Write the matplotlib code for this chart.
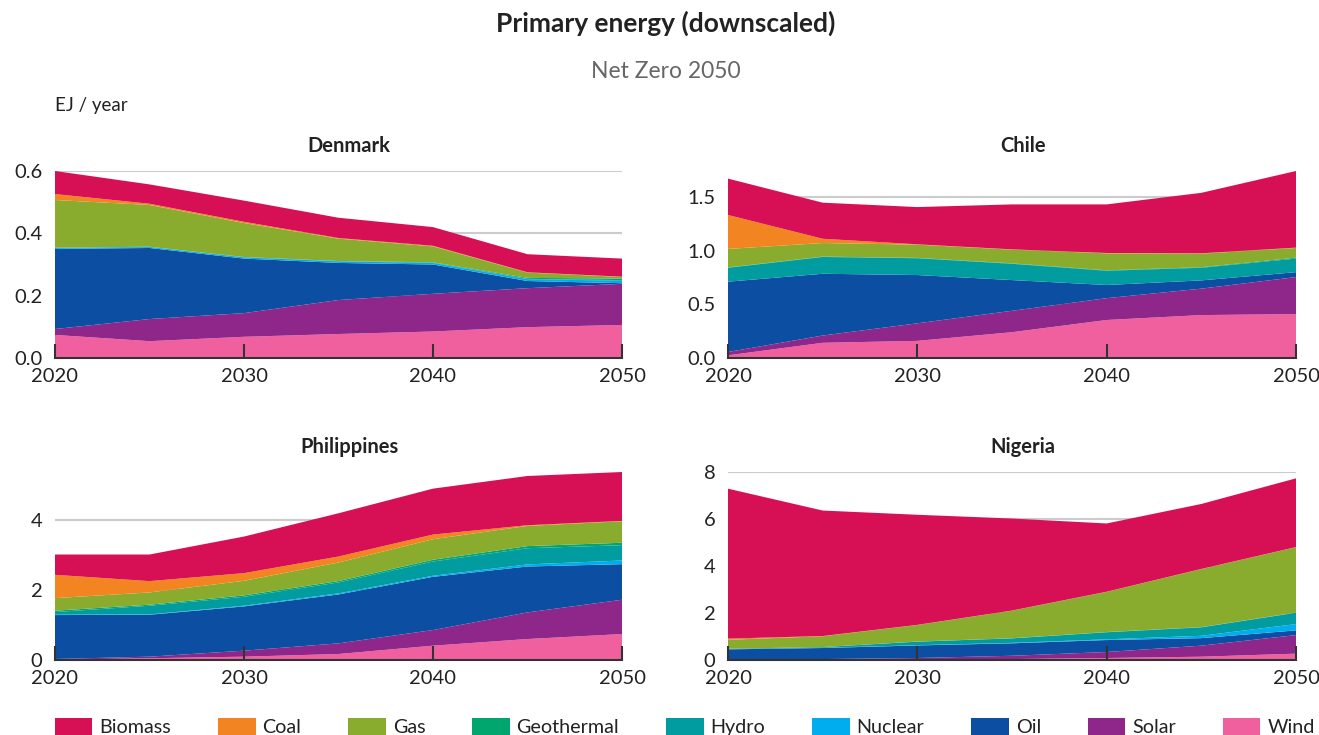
import numpy as np
import matplotlib
matplotlib.use("Agg")
from matplotlib import pyplot as plt
from matplotlib.patches import Patch

plt.rcParams['font.family'] = ['Lato', 'DejaVu Sans']

years = [2020, 2025, 2030, 2035, 2040, 2045, 2050]
sources = ["Biomass", "Coal", "Gas", "Geothermal", "Hydro", "Nuclear", "Oil", "Solar", "Wind"]
colors = ["#D70F55", "#F28522", "#89AC2F", "#00A66E", "#009CA0", "#00AEEF", "#0B4EA2", "#8F278B", "#F0609E"]

# EJ / year, one list per source (same order as `sources`)
denmark = [
    [0.074, 0.062, 0.068, 0.065, 0.060, 0.058, 0.058],  # Biomass
    [0.019, 0.004, 0.004, 0.002, 0.002, 0.001, 0.001],  # Coal
    [0.153, 0.134, 0.109, 0.072, 0.051, 0.017, 0.005],  # Gas
    [0.000, 0.000, 0.000, 0.000, 0.001, 0.003, 0.005],  # Geothermal
    [0.001, 0.001, 0.001, 0.001, 0.001, 0.001, 0.002],  # Hydro
    [0.003, 0.003, 0.004, 0.005, 0.005, 0.006, 0.008],  # Nuclear
    [0.257, 0.228, 0.175, 0.119, 0.094, 0.023, 0.002],  # Oil
    [0.019, 0.071, 0.076, 0.109, 0.121, 0.125, 0.132],  # Solar
    [0.074, 0.054, 0.068, 0.077, 0.085, 0.099, 0.106],  # Wind
]
chile = [
    [0.340, 0.337, 0.348, 0.420, 0.454, 0.565, 0.716],
    [0.317, 0.040, 0.003, 0.003, 0.003, 0.003, 0.003],
    [0.173, 0.127, 0.124, 0.128, 0.159, 0.127, 0.091],
    [0.003, 0.003, 0.003, 0.004, 0.004, 0.005, 0.008],
    [0.130, 0.157, 0.157, 0.152, 0.133, 0.118, 0.127],
    [0.000, 0.000, 0.000, 0.000, 0.000, 0.000, 0.000],
    [0.657, 0.577, 0.451, 0.287, 0.123, 0.077, 0.046],
    [0.031, 0.068, 0.164, 0.200, 0.204, 0.247, 0.346],
    [0.025, 0.142, 0.160, 0.241, 0.355, 0.401, 0.410],
]
philippines = [
    [0.580, 0.760, 1.045, 1.235, 1.311, 1.406, 1.397],
    [0.665, 0.323, 0.219, 0.171, 0.133, 0.019, 0.009],
    [0.359, 0.350, 0.416, 0.530, 0.587, 0.577, 0.614],
    [0.040, 0.030, 0.040, 0.040, 0.050, 0.060, 0.070],
    [0.075, 0.247, 0.255, 0.312, 0.407, 0.462, 0.437],
    [0.010, 0.010, 0.020, 0.030, 0.030, 0.060, 0.105],
    [1.253, 1.197, 1.264, 1.397, 1.520, 1.311, 1.016],
    [0.020, 0.045, 0.171, 0.304, 0.446, 0.760, 0.979],
    [0.010, 0.050, 0.095, 0.171, 0.409, 0.599, 0.741],
]
nigeria = [
    [6.380, 5.340, 4.685, 3.915, 2.905, 2.765, 2.925],
    [0.050, 0.010, 0.005, 0.005, 0.005, 0.005, 0.005],
    [0.380, 0.460, 0.705, 1.175, 1.710, 2.470, 2.780],
    [0.000, 0.000, 0.005, 0.005, 0.010, 0.010, 0.010],
    [0.022, 0.030, 0.150, 0.190, 0.300, 0.360, 0.480],
    [0.005, 0.010, 0.010, 0.020, 0.030, 0.100, 0.270],
    [0.443, 0.470, 0.535, 0.530, 0.510, 0.320, 0.200],
    [0.010, 0.030, 0.055, 0.140, 0.255, 0.470, 0.790],
    [0.000, 0.010, 0.030, 0.040, 0.085, 0.140, 0.270],
]

panels = [
    ("Denmark", denmark, [0.0, 0.2, 0.4, 0.6], "{:.1f}"),
    ("Chile", chile, [0.0, 0.5, 1.0, 1.5], "{:.1f}"),
    ("Philippines", philippines, [0, 2, 4], "{:.0f}"),
    ("Nigeria", nigeria, [0, 2, 4, 6, 8], "{:.0f}"),
]

W, H = 1319, 735
fig = plt.figure(figsize=(W / 100, H / 100), dpi=100)

# axes boxes in pixels: left, right, top, bottom
boxes = [(55, 622, 171, 358), (728, 1296, 171, 358),
         (55, 622, 472, 660), (728, 1296, 472, 660)]

for (name, data, yticks, fmt), (l, r, t, b) in zip(panels, boxes):
    ax = fig.add_axes([l / W, 1 - b / H, (r - l) / W, (b - t) / H])
    # stack from the bottom: Wind first, Biomass on top
    ax.stackplot(years, data[::-1], colors=colors[::-1], linewidth=0)
    total = np.sum(data, axis=0)
    ax.set_xlim(2020, 2050)
    ax.set_ylim(0, max(total.max(), yticks[-1]))
    ax.set_yticks(yticks)
    ax.set_yticklabels([fmt.format(v) for v in yticks])
    ax.set_xticks([2020, 2030, 2040, 2050])
    ax.yaxis.grid(True, color="#cccccc", linewidth=1.5)
    ax.set_axisbelow(True)
    ax.xaxis.set_zorder(3)
    for s in ["top", "right", "left"]:
        ax.spines[s].set_visible(False)
    ax.spines["bottom"].set_color("#333333")
    ax.spines["bottom"].set_linewidth(1.5)
    ax.tick_params(axis="y", length=0, pad=9, labelsize=14.5, labelcolor="#222222")
    ax.tick_params(axis="x", direction="in", length=10, width=1.5, color="#333333",
                   pad=7, labelsize=14.5, labelcolor="#222222")
    ax.set_title(name, fontsize=14.5, fontweight="bold", color="#222222", pad=14, x=0.519)

fig.text(666 / W, 1 - 23 / H, "Primary energy (downscaled)", ha="center", va="center",
         fontsize=19, fontweight="bold", color="#222222")
fig.text(666 / W, 1 - 72 / H, "Net Zero 2050", ha="center", va="center",
         fontsize=16.5, color="#666666")
fig.text(55 / W, 1 - 105 / H, "EJ / year", ha="left", va="center",
         fontsize=13.5, color="#222222")

handles = [Patch(facecolor=c, edgecolor="none", label=s) for s, c in zip(sources, colors)]
fig.legend(handles=handles, loc="center left", bbox_to_anchor=(55 / W, 1 - 727 / H),
           ncol=9, frameon=False, fontsize=14.2, handlelength=1.9, handleheight=1.0,
           handletextpad=0.35, columnspacing=2.38, borderpad=0, borderaxespad=0,
           labelcolor="#222222")

fig.savefig("out.png", dpi=100)
